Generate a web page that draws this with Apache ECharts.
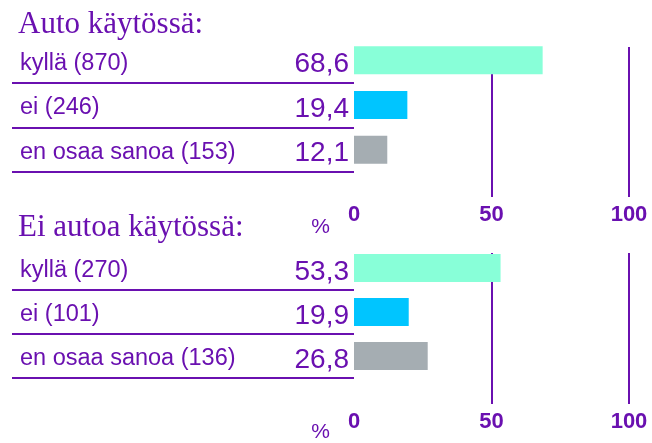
<!DOCTYPE html>
<html>
<head>
<meta charset="utf-8">
<script src="https://cdn.jsdelivr.net/npm/echarts@6/dist/echarts.min.js"></script>
<style>
  html, body { margin: 0; padding: 0; background: #fff; }
  #chart { width: 652px; height: 443px; }
</style>
</head>
<body>
<div id="chart"></div>
<script>
// data
var titles = ['Auto käytössä:', 'Ei autoa käytössä:'];
var catsCar = ['kyllä (870)', 'ei (246)', 'en osaa sanoa (153)'];
var valsCar = [68.6, 19.4, 12.1];
var catsNoCar = ['kyllä (270)', 'ei (101)', 'en osaa sanoa (136)'];
var valsNoCar = [53.3, 19.9, 26.8];
var xTicks = [0, 50, 100];
var lineTicks = [50, 100];
var barColors = ['#88ffd8', '#00c5ff', '#a5adb2'];

var purple = '#6a10b0';
var sans = "'Liberation Sans', Arial, sans-serif";

var myChart = echarts.init(document.getElementById('chart'));

function fmt(v) {
  return v.toFixed(1).replace('.', ',');
}

function makeY(idx, cats) {
  return {
    type: 'category',
    gridIndex: idx,
    inverse: true,
    data: cats,
    axisLine: { show: false },
    axisTick: {
      show: true,
      length: 342,
      interval: function (i) { return i > 0; },
      lineStyle: { color: purple, width: 2 }
    },
    axisLabel: {
      align: 'left',
      verticalAlign: 'top',
      lineHeight: 6,
      margin: 334,
      color: purple,
      fontSize: 23.5,
      fontFamily: sans
    }
  };
}

function makeX(idx, off, len, namePad) {
  return {
    type: 'value',
    gridIndex: idx,
    min: xTicks[0],
    max: xTicks[xTicks.length - 1],
    interval: 50,
    offset: off,
    name: '%',
    nameLocation: 'start',
    nameGap: 24,
    nameTextStyle: {
      color: purple,
      fontSize: 21,
      fontFamily: sans,
      verticalAlign: 'top',
      padding: [namePad, 0, 0, 0]
    },
    axisLine: { show: false },
    splitLine: { show: false },
    axisTick: {
      show: true,
      inside: true,
      length: len,
      customValues: lineTicks,
      lineStyle: { color: purple, width: 2 }
    },
    axisLabel: {
      margin: 7,
      color: purple,
      fontSize: 22,
      fontWeight: 'bold',
      fontFamily: sans
    }
  };
}

function makeBar(idx, vals) {
  return {
    type: 'bar',
    xAxisIndex: idx,
    yAxisIndex: idx,
    barWidth: 28,
    data: vals.map(function (v, i) {
      return { value: v, itemStyle: { color: barColors[i] } };
    }),
    label: {
      show: true,
      position: 'left',
      distance: 5,
      offset: [0, 4],
      color: purple,
      fontSize: 28,
      fontFamily: sans,
      formatter: function (p) { return fmt(p.value); }
    }
  };
}

var titleStyle = { color: purple, fontSize: 31, fontWeight: 'normal', fontFamily: "'Liberation Serif', serif" };

var option = {
  animation: false,
  title: [
    { text: titles[0], left: 13, top: 4, textStyle: titleStyle },
    { text: titles[1], left: 13, top: 207, textStyle: titleStyle }
  ],
  grid: [
    { left: 354, right: 23, top: 38, height: 134 },
    { left: 354, right: 23, top: 246, height: 135 }
  ],
  xAxis: [makeX(0, 25, 150, 20), makeX(1, 26, 151, 18)],
  yAxis: [makeY(0, catsCar), makeY(1, catsNoCar)],
  series: [makeBar(0, valsCar), makeBar(1, valsNoCar)]
};

myChart.setOption(option);
</script>
</body>
</html>
